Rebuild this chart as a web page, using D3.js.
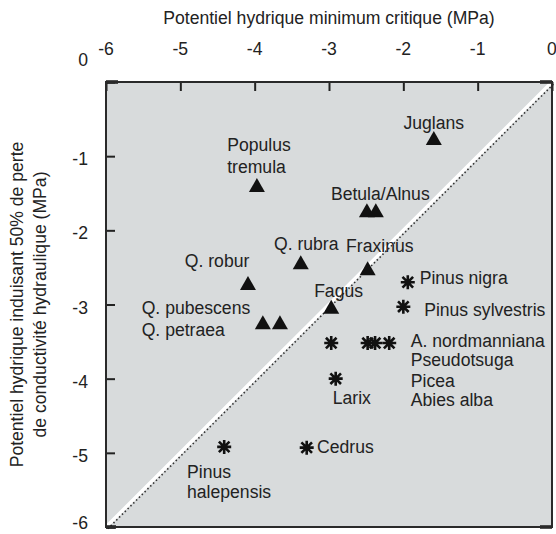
<!DOCTYPE html>
<html><head><meta charset="utf-8">
<script src="https://cdn.jsdelivr.net/npm/d3@7"></script>
<style>
html,body{margin:0;padding:0;background:#fff;}
svg text{font-family:"Liberation Sans",Arial,Helvetica,sans-serif;fill:#222;}
</style></head>
<body>
<svg id="chart" width="556" height="534"></svg>
<script>
// ---- data ----
const xTickValues = [-6, -5, -4, -3, -2, -1, 0];
const yTickValues = [0, -1, -2, -3, -4, -5, -6];
const xTitle = "Potentiel hydrique minimum critique (MPa)";
const yTitleLines = ["Potentiel hydrique induisant 50% de perte", "de conductivité hydraulique (MPa)"];

// angiosperms (triangles)
const triX = [-1.59, -3.97, -2.49, -2.37, -3.38, -2.48, -4.09, -3.89, -3.66, -2.97];
const triY = [-0.755, -1.39, -1.73, -1.73, -2.43, -2.51, -2.71, -3.24, -3.24, -3.03];
// conifers (asterisks)
const astX = [-1.94, -2.00, -2.97, -2.48, -2.38, -2.19, -2.91, -3.30, -4.41];
const astY = [-2.70, -3.03, -3.52, -3.52, -3.52, -3.52, -4.00, -4.93, -4.92];

// species labels (anchor in data units)
const labelText = ["Juglans", "Populus", "tremula", "Betula/Alnus", "Q. rubra", "Fraxinus", "Q. robur",
  "Pinus nigra", "Fagus", "Pinus sylvestris", "Q. pubescens", "Q. petraea", "A. nordmanniana",
  "Pseudotsuga", "Picea", "Abies alba", "Larix", "Cedrus", "Pinus", "halepensis"];
const labelX = [-1.59, -4.37, -4.37, -2.31, -3.74, -2.77, -4.94, -1.78, -3.20, -1.72, -5.52, -5.52,
  -1.90, -1.90, -1.90, -1.90, -2.95, -3.16, -4.91, -4.91];
const labelY = [-0.634, -0.93, -1.227, -1.591, -2.265, -2.292, -2.494, -2.723, -2.899, -3.155, -3.128, -3.425,
  -3.573, -3.829, -4.112, -4.368, -4.341, -5.002, -5.339, -5.609];
const labelAnchor = ["middle", "start", "start", "middle", "start", "start", "start", "start", "start", "start",
  "start", "start", "start", "start", "start", "start", "start", "start", "start", "start"];

// ---- layout ----
const L = 106, R = 552, T = 82, B = 527;
const FS = 17.6;
const svg = d3.select("#chart");
const x = d3.scaleLinear().domain([-6, 0]).range([L, R]);
const y = d3.scaleLinear().domain([-6, 0]).range([B, T]);
const fmt = d => String(d);

// plot background
svg.append("rect").attr("x", L).attr("y", T).attr("width", R - L).attr("height", B - T)
  .attr("fill", "#d8dbdc");

// 1:1 line
const diag = d3.line().x(d => x(d)).y(d => y(d));
svg.append("path").attr("d", diag([-6, 0])).attr("stroke", "#fff").attr("stroke-width", 3.5).attr("fill", "none");
svg.append("path").attr("d", diag([-6, 0])).attr("stroke", "#333").attr("stroke-width", 1.6)
  .attr("stroke-dasharray", "1.5,2.5").attr("fill", "none").attr("transform", "translate(1.8,1.8)");

// axes (ticks inside)
const gx = svg.append("g").attr("transform", `translate(0,${T})`)
  .call(d3.axisTop(x).tickValues(xTickValues).tickSize(-9).tickFormat(fmt));
gx.select(".domain").remove();
gx.selectAll(".tick line").attr("stroke", "#222").attr("stroke-width", 2);
gx.selectAll(".tick text").remove();
const gy = svg.append("g").attr("transform", `translate(${L},0)`)
  .call(d3.axisLeft(y).tickValues(yTickValues).tickSize(-9).tickFormat(fmt));
gy.select(".domain").remove();
gy.selectAll(".tick line").attr("stroke", "#222").attr("stroke-width", 2);
gy.selectAll(".tick text").remove();

// tick labels
svg.append("g").selectAll("text").data(xTickValues).join("text")
  .attr("x", d => x(d)).attr("y", 55).attr("text-anchor", "middle")
  .attr("font-size", FS).text(fmt);
svg.append("g").selectAll("text").data(yTickValues).join("text")
  .attr("x", 88).attr("y", d => d === 0 ? y(d) - 16 : Math.min(y(d) + 9, 529))
  .attr("text-anchor", "end")
  .attr("font-size", FS).text(fmt);

// corner ticks
const corners = [[L, T, L + 12, T], [R - 12, T, R, T], [R - 12, B, R, B], [L, B, L + 10, B]];
svg.append("g").selectAll("line").data(corners).join("line")
  .attr("x1", d => d[0]).attr("y1", d => d[1]).attr("x2", d => d[2]).attr("y2", d => d[3])
  .attr("stroke", "#1a1a1a").attr("stroke-width", 3.5);

// frame
svg.append("rect").attr("x", L).attr("y", T).attr("width", R - L).attr("height", B - T)
  .attr("fill", "none").attr("stroke", "#2a2a2a").attr("stroke-width", 2);

// titles
svg.append("text").attr("x", (L + R) / 2).attr("y", 24).attr("text-anchor", "middle")
  .attr("font-size", FS).text(xTitle);
const yT = svg.append("g").attr("transform", `translate(0,${(T + B) / 2}) rotate(-90)`);
yT.selectAll("text").data(yTitleLines).join("text")
  .attr("x", 0).attr("y", (d, i) => 22.5 + i * 23).attr("text-anchor", "middle")
  .attr("font-size", FS).text(d => d);

// triangles
const triPath = "M0,-7L8,7L-8,7Z";
svg.append("g").selectAll("path").data(triX.map((v, i) => [v, triY[i]])).join("path")
  .attr("d", triPath).attr("transform", d => `translate(${x(d[0])},${y(d[1])})`)
  .attr("fill", "#111");

// asterisks
const a = 7, b = 5.3;
const astPath = `M${-a},0L${a},0M0,${-a}L0,${a}M${-b},${-b}L${b},${b}M${-b},${b}L${b},${-b}`;
svg.append("g").selectAll("path").data(astX.map((v, i) => [v, astY[i]])).join("path")
  .attr("d", astPath).attr("transform", d => `translate(${x(d[0])},${y(d[1])})`)
  .attr("stroke", "#111").attr("stroke-width", 2.6).attr("fill", "none");

// species labels
svg.append("g").selectAll("text").data(labelText).join("text")
  .attr("x", (d, i) => x(labelX[i])).attr("y", (d, i) => y(labelY[i]))
  .attr("text-anchor", (d, i) => labelAnchor[i])
  .attr("font-size", FS).text(d => d);
</script>
</body></html>
